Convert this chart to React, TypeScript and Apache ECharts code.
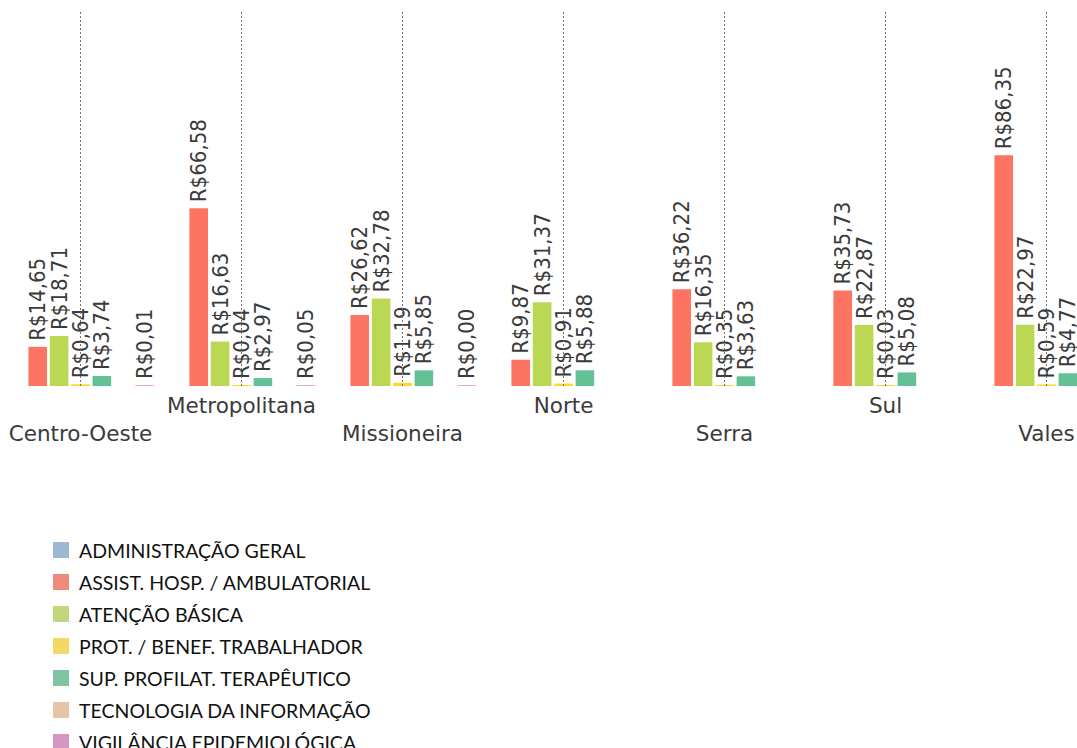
import React, { useEffect, useRef } from "react";
import * as echarts from "echarts";

const categories = ["Centro-Oeste", "Metropolitana", "Missioneira", "Norte", "Serra", "Sul", "Vales"];
const seriesNames = [
  "ADMINISTRAÇÃO GERAL",
  "ASSIST. HOSP. / AMBULATORIAL",
  "ATENÇÃO BÁSICA",
  "PROT. / BENEF. TRABALHADOR",
  "SUP. PROFILAT. TERAPÊUTICO",
  "TECNOLOGIA DA INFORMAÇÃO",
  "VIGILÂNCIA EPIDEMIOLÓGICA",
];
const adminGeral: (number | null)[] = [null, null, null, null, null, null, null];
const assistHosp: (number | null)[] = [14.65, 66.58, 26.62, 9.87, 36.22, 35.73, 86.35];
const atencaoBasica: (number | null)[] = [18.71, 16.63, 32.78, 31.37, 16.35, 22.87, 22.97];
const protBenef: (number | null)[] = [0.64, 0.04, 1.19, 0.91, 0.35, 0.03, 0.59];
const supProfilat: (number | null)[] = [3.74, 2.97, 5.85, 5.88, 3.63, 5.08, 4.77];
const tecnologia: (number | null)[] = [null, null, null, null, null, null, null];
const vigilancia: (number | null)[] = [0.01, 0.05, 0.0, null, null, null, null];
const seriesValues = [adminGeral, assistHosp, atencaoBasica, protBenef, supProfilat, tecnologia, vigilancia];

const barColors = ["#8eafd2", "#fd7462", "#bad854", "#fcd72c", "#63c195", "#e6be9f", "#eaaad7"];
const legendColors = ["#9db8d2", "#ef8a7d", "#c3d67b", "#f3d964", "#7fc4a2", "#e8c4a6", "#d597c2"];

export default function App() {
  const ref = useRef<HTMLDivElement>(null);
  useEffect(() => {
    if (!ref.current) return;
    const chart = echarts.init(ref.current, null, { renderer: "svg" });
    const fmt = (p: any) => "R$" + Number(p.value).toFixed(2).replace(".", ",");
    const series: any[] = seriesNames.map((name, i) => ({
      name,
      type: "bar",
      data: seriesValues[i].map((v) => (v === null ? "-" : v)),
      itemStyle: { color: barColors[i] },
      barCategoryGap: "8.7%",
      barGap: "15%",
      barMinHeight: 1,
      label: {
        show: true,
        position: "top",
        rotate: 90,
        align: "left",
        verticalAlign: "middle",
        distance: 6,
        formatter: fmt,
        fontFamily: "'DejaVu Sans Condensed', 'DejaVu Sans'",
        fontSize: 22,
        color: "#3a3a3a",
        textBorderColor: "#ffffff",
        textBorderWidth: 2,
      },
    }));
    // guide lines at the centre of each category (middle bar series sits at the centre)
    series[3].markLine = {
      silent: true,
      symbol: "none",
      label: { show: false },
      lineStyle: { color: "#707070", type: [2, 2], width: 1 },
      data: categories.map((c) => ({ xAxis: c })),
    };
    chart.setOption({
      animation: false,
      grid: { left: 0, top: 12, width: 1127, bottom: 414, containLabel: false },
      legend: {
        orient: "vertical",
        left: 48,
        top: 535,
        icon: "rect",
        itemWidth: 16,
        itemHeight: 16,
        itemGap: 12,
        textStyle: {
          fontFamily: "Lato",
          fontSize: 19.5,
          color: "#111111",
          padding: [0, 0, 0, 5],
        },
        data: seriesNames.map((n, i) => ({ name: n, itemStyle: { color: legendColors[i] } })),
      },
      xAxis: {
        type: "category",
        data: categories,
        axisLine: { show: false },
        axisTick: { show: false },
        splitLine: { show: false },
        axisLabel: {
          interval: 0,
          margin: 5,
          fontFamily: "DejaVu Sans",
          fontSize: 21.5,
          lineHeight: 28,
          color: "#3a3a3a",
          formatter: (v: string, i: number) => (i % 2 === 0 ? "\n" + v : v),
        },
      },
      yAxis: { type: "value", min: 0, max: 140, show: false },
      series,
    });
    return () => chart.dispose();
  }, []);
  return (
    <div style={{ position: "fixed", left: 0, top: 0, width: 1077, height: 748, overflow: "hidden", background: "#fff" }}>
      <div ref={ref} style={{ width: 1130, height: 800 }} />
    </div>
  );
}
